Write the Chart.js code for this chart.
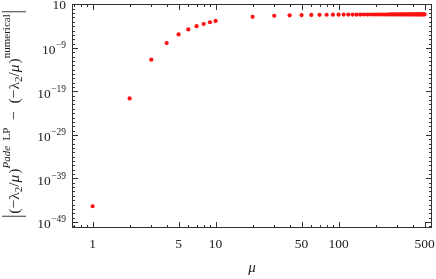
<!DOCTYPE html>
<html lang="en">
<head>
  <meta charset="UTF-8">
  <title>Pade LP error vs mu</title>
  <script src="https://cdn.jsdelivr.net/npm/chart.js"></script>
  <style>
    body {
      margin: 0;
      padding: 0;
      background: #ffffff;
    }
    .chart-box {
      width: 436px;
      height: 279px;
    }
  </style>
</head>
<body>
  <div class="chart-box">
    <canvas id="errChart"></canvas>
  </div>

  <script>
    // mu values
    const mu = [1, 2, 3, 4, 5, 6, 7, 8, 9, 10,
      20, 30, 40, 50, 60, 70, 80, 90, 100,
      110, 120, 130, 140, 150, 160, 170, 180, 190, 200,
      210, 220, 230, 240, 250, 260, 270, 280, 290, 300,
      310, 320, 330, 340, 350, 360, 370, 380, 390, 400,
      410, 420, 430, 440, 450, 460, 470, 480, 490, 500];

    // |(-l2/mu)^Pade LP - (-l2/mu)^numerical|
    const err = [4e-46, 2.5e-21, 2e-12, 1.3e-8, 1.3e-6, 1.8e-5, 1e-4, 3.2e-4, 8e-4, 1.6e-3,
      0.0145, 0.025, 0.032, 0.035, 0.038, 0.040, 0.042, 0.044, 0.045,
      0.046, 0.046, 0.047, 0.047, 0.047, 0.048, 0.048, 0.048, 0.048, 0.049,
      0.049, 0.049, 0.049, 0.049, 0.049, 0.050, 0.050, 0.050, 0.050, 0.050,
      0.050, 0.050, 0.050, 0.050, 0.050, 0.050, 0.051, 0.051, 0.051, 0.051,
      0.051, 0.051, 0.051, 0.051, 0.051, 0.051, 0.051, 0.051, 0.051, 0.051];

    const xMajor = [1, 5, 10, 50, 100, 500];
    const xMinor = [0.7, 0.8, 0.9, 2, 3, 4, 6, 7, 8, 9, 20, 30, 40, 60, 70, 80, 90, 200, 300, 400];
    const yMajorExp = [1, -9, -19, -29, -39, -49];

    const serif = '"Liberation Serif", "DejaVu Serif", serif';

    // frame, inward ticks and tick labels, Mathematica style
    const frameTicks = {
      id: 'frameTicks',
      afterDraw(chart) {
        const ctx = chart.ctx;
        const a = chart.chartArea;
        const xs = chart.scales.x;
        const ys = chart.scales.y;
        ctx.save();
        ctx.strokeStyle = '#333';
        ctx.lineWidth = 1;
        ctx.strokeRect(a.left + 0.5, a.top + 0.5, a.right - a.left - 1, a.bottom - a.top - 1);

        const tick = (x1, y1, x2, y2) => {
          ctx.beginPath();
          ctx.moveTo(x1, y1);
          ctx.lineTo(x2, y2);
          ctx.stroke();
        };

        xMajor.forEach(v => {
          const px = Math.round(xs.getPixelForValue(v)) + 0.5;
          tick(px, a.bottom, px, a.bottom - 6);
          tick(px, a.top, px, a.top + 6);
        });
        xMinor.forEach(v => {
          const px = Math.round(xs.getPixelForValue(v)) + 0.5;
          tick(px, a.bottom, px, a.bottom - 3);
          tick(px, a.top, px, a.top + 3);
        });
        for (let e = 1; e >= -50; e--) {
          const py = Math.round(ys.getPixelForValue(Math.pow(10, e))) + 0.5;
          const len = yMajorExp.includes(e) ? 6 : 3;
          tick(a.left, py, a.left + len, py);
          tick(a.right, py, a.right - len, py);
        }

        ctx.fillStyle = '#222';
        ctx.textBaseline = 'middle';
        ctx.textAlign = 'center';
        ctx.font = '13.5px ' + serif;
        xMajor.forEach(v => {
          ctx.fillText(String(v), xs.getPixelForValue(v), a.bottom + 16);
        });

        ctx.textAlign = 'right';
        yMajorExp.forEach(e => {
          const py = ys.getPixelForValue(Math.pow(10, e));
          const right = a.left - 6;
          if (e === 1) {
            ctx.font = '13.5px ' + serif;
            ctx.fillText('10', right, py + 1);
            return;
          }
          const sup = '\u2212' + String(-e);
          ctx.font = '9.5px ' + serif;
          const w = ctx.measureText(sup).width;
          ctx.fillText(sup, right, py - 2);
          ctx.font = '13.5px ' + serif;
          ctx.fillText('10', right - w - 0.5, py + 3);
        });

        // x title
        ctx.textAlign = 'center';
        ctx.font = 'italic 15px ' + serif;
        ctx.fillText('\u03bc', (a.left + a.right) / 2, 268);

        // y title, rotated
        const parts = [
          ['bar'],
          ['(\u2212\u03bb', 'n'], ['2', 'sub'], ['/', 'n'], ['\u03bc', 'i'], [')', 'n'],
          ['Pade', 'supi'], ['  LP', 'sup'],
          ['  \u2212  (\u2212\u03bb', 'n'], ['2', 'sub'], ['/', 'n'], ['\u03bc', 'i'], [')', 'n'],
          ['numerical', 'sup'],
          ['bar']
        ];
        const fontFor = kind => {
          if (kind === 'n') return '15.5px ' + serif;
          if (kind === 'i') return 'italic 15.5px ' + serif;
          if (kind === 'sub') return '11px ' + serif;
          if (kind === 'supi') return 'italic 11px ' + serif;
          return '11px ' + serif;
        };
        let total = 0;
        const widths = parts.map(p => {
          if (p[0] === 'bar') return 5;
          ctx.font = fontFor(p[1]);
          return ctx.measureText(p[0]).width + (p[1] === 'i' ? 1 : 0);
        });
        widths.forEach(w => total += w);
        ctx.translate(14, 114);
        ctx.rotate(-Math.PI / 2);
        ctx.textAlign = 'left';
        ctx.textBaseline = 'alphabetic';
        let x = -total / 2;
        parts.forEach((p, i) => {
          if (p[0] === 'bar') {
            ctx.strokeStyle = '#222';
            ctx.lineWidth = 0.9;
            tick(x + 2.5, -12, x + 2.5, 12);
          } else {
            ctx.font = fontFor(p[1]);
            let dy = 4.5;
            if (p[1] === 'sub') dy = 8;
            if (p[1] === 'sup' || p[1] === 'supi') dy = -4.5;
            ctx.fillText(p[0], x, dy);
          }
          x += widths[i];
        });
        ctx.restore();
      }
    };

    new Chart(document.getElementById('errChart'), {
      type: 'scatter',
      data: {
        datasets: [{
          data: mu.map((m, i) => ({ x: m, y: err[i] })),
          backgroundColor: '#ff1010',
          borderWidth: 0,
          pointRadius: 2.1
        }]
      },
      options: {
        responsive: true,
        maintainAspectRatio: false,
        animation: false,
        layout: { padding: { left: 72, top: 4, right: 3, bottom: 51 } },
        plugins: {
          legend: { display: false },
          tooltip: { enabled: false }
        },
        scales: {
          x: { type: 'logarithmic', display: false, min: 0.68, max: 575 },
          y: { type: 'logarithmic', display: false, min: 4e-51, max: 12.6 }
        }
      },
      plugins: [frameTicks]
    });
  </script>
</body>
</html>
